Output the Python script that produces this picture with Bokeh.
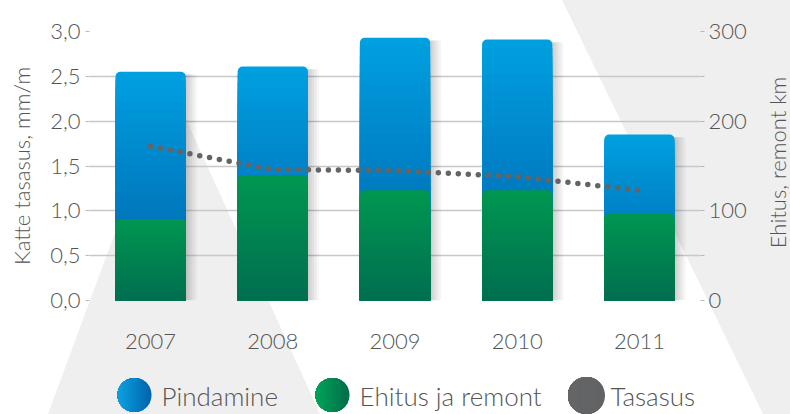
import numpy as np
from urllib.parse import quote
from bokeh.plotting import figure
from bokeh.layouts import row, column
from bokeh.models import Range1d, LinearAxis, FixedTicker, CustomJSTickFormatter
from bokeh.core.properties import value
from bokeh.embed import file_html
from bokeh.resources import INLINE

# ---------------- data ----------------
years = ["2007", "2008", "2009", "2010", "2011"]
pindamine = [164, 121, 170, 168, 88]        # km (right axis)
ehitus_ja_remont = [91, 140, 123, 123, 97]  # km (right axis)
tasasus = [1.72, 1.46, 1.45, 1.38, 1.23]    # mm/m (left axis)

left_ticks = [0, 0.5, 1.0, 1.5, 2.0, 2.5, 3.0]
right_ticks = [0, 50, 100, 150, 200, 250, 300]
legend_labels = ["Pindamine", "Ehitus ja remont", "Tasasus"]
left_title = "Katte tasasus, mm/m"
right_title = "Ehitus, remont km"

# ---------------- styling ----------------
W, H = 790, 414
H_MAIN = 360
W_TITLE = 28
FONT = "Lato Light, Lato"
TXT = "#555555"
TOP, BOTTOM = 31, 60
FL, FR = 89, 700          # frame left / right (page px)


def lerp(c0, c1, t):
    return "#%02x%02x%02x" % tuple(int(round(a + (b - a) * t)) for a, b in zip(c0, c1))


def bare(fig):
    fig.outline_line_color = None
    fig.background_fill_alpha = 0
    fig.border_fill_alpha = 0
    fig.xgrid.visible = False
    fig.ygrid.visible = False


# ---------------- main figure ----------------
p = figure(width=W - W_TITLE, height=H_MAIN, output_backend="svg", toolbar_location=None,
           x_range=Range1d(-0.5, 4.5), y_range=Range1d(0, 3),
           min_border_left=FL, min_border_right=W - W_TITLE - FR, min_border_top=TOP,
           min_border_bottom=BOTTOM)
p.extra_y_ranges = {"km": Range1d(0, 300)}
p.outline_line_color = None
p.background_fill_alpha = 0
p.border_fill_alpha = 0

x = np.arange(len(years))
pin = np.array(pindamine, float)
eh = np.array(ehitus_ja_remont, float)
total = pin + eh
BW = 0.575

# soft shadows to the right of the bars
for dx in [0.09, 0.07, 0.05, 0.032, 0.016]:
    p.vbar(x=x + dx, width=BW, bottom=0, top=total - 3, y_range_name="km",
           fill_color="black", fill_alpha=0.04, line_color=None)

N = 30
blue_top, blue_bot = (0, 160, 224), (0, 96, 170)
for k in range(N):
    f = 1 - k / N
    col = lerp(blue_bot, blue_top, 1 - (k + 0.5) / N)
    kw = dict(border_radius=(5, 5, 0, 0)) if k == 0 else {}
    p.vbar(x=x, width=BW, bottom=0, top=total * f, y_range_name="km",
           fill_color=col, line_color=None, **kw)

green_top, green_bot = (0, 151, 80), (0, 110, 80)
for k in range(N):
    f = 1 - k / N
    col = lerp(green_bot, green_top, 1 - (k + 0.5) / N)
    kw = dict(border_radius=(5, 5, 0, 0)) if k == 0 else {}
    p.vbar(x=x, width=BW, bottom=0, top=eh * f, y_range_name="km",
           fill_color=col, line_color=None, **kw)

# dotted line (Tasasus, left axis)
p.line(x, tasasus, line_color="#646464", line_width=5.5, line_dash="0 10",
       line_cap="round")

# ---------------- axes ----------------
p.xgrid.visible = False
p.ygrid.ticker = FixedTicker(ticks=left_ticks)
p.ygrid.grid_line_color = "#c8c8c8"
p.ygrid.grid_line_width = 1.5

xa = p.xaxis[0]
xa.ticker = FixedTicker(ticks=list(range(len(years))))
xa.major_label_overrides = {i: y for i, y in enumerate(years)}
xa.axis_line_color = None
xa.major_tick_line_color = None
xa.minor_tick_line_color = None
xa.major_label_standoff = 27
xa.major_label_text_font = FONT
xa.major_label_text_font_size = "22px"
xa.major_label_text_color = TXT

ya = p.yaxis[0]
ya.ticker = FixedTicker(ticks=left_ticks)
ya.formatter = CustomJSTickFormatter(code="return tick.toFixed(1).replace('.', ',')")
ya.axis_label = left_title

ra = LinearAxis(y_range_name="km", ticker=FixedTicker(ticks=right_ticks),
                formatter=CustomJSTickFormatter(
                    code="return (Math.round(tick) % 100 == 0) ? tick.toFixed(0) : ''"))
p.add_layout(ra, "right")

for ax, st in [(ya, 5), (ra, 4)]:
    ax.axis_line_color = None
    ax.major_tick_line_color = "#b8b8b8"
    ax.major_tick_out = 4
    ax.major_tick_in = 0
    ax.minor_tick_line_color = None
    ax.major_label_standoff = st
    ax.major_label_text_font = FONT
    ax.major_label_text_font_size = "22px"
    ax.major_label_text_color = TXT
    ax.axis_label_text_font = FONT
    ax.axis_label_text_font_size = "22px"
    ax.axis_label_text_font_style = "normal"
    ax.axis_label_text_color = TXT
    ax.axis_label_standoff = 12

# ---------------- right-hand title strip ----------------
t = figure(width=W_TITLE, height=H_MAIN, output_backend="svg", toolbar_location=None,
           x_range=Range1d(0, W_TITLE), y_range=Range1d(0, 3),
           x_axis_location=None, y_axis_location=None,
           min_border_left=0, min_border_right=0, min_border_top=TOP,
           min_border_bottom=BOTTOM)
bare(t)
t.text(x=[15], y=[3 * (300 - 162) / 269], text=[right_title], angle=np.pi / 2,
       text_font=value(FONT), text_font_size="22px", text_color=TXT,
       text_align="center", text_baseline="middle")

# ---------------- legend strip ----------------
q = figure(width=W, height=H - H_MAIN, output_backend="svg", toolbar_location=None,
           x_range=Range1d(FL, FR), y_range=Range1d(H, H_MAIN),
           x_axis_location=None, y_axis_location=None,
           min_border_left=FL, min_border_right=W - FR, min_border_top=0,
           min_border_bottom=0)
bare(q)


def portion(cx, cy, r, xc, n=48):
    th0 = np.arccos(np.clip((xc - cx) / r, -1, 1))
    th = np.linspace(th0, 2 * np.pi - th0, n)
    return list(cx + r * np.cos(th)), list(cy + r * np.sin(th))


legend_swatches = [((134, 394.5, 17), (12, 162, 226), (0, 98, 172)),
                   ((332, 394.5, 17), (0, 165, 88), (0, 108, 74)),
                   ((586, 395, 18.5), (100, 101, 103), (98, 99, 101))]
legend_text_x = [161, 359, 610]
pxs, pys, pcols = [], [], []
M = 16
for (cx, cy, r), light, dark in legend_swatches:
    for i in range(M):
        xc = cx + r - 2 * r * i / M
        xs_, ys_ = portion(cx, cy, r, xc)
        pxs.append(xs_)
        pys.append(ys_)
        pcols.append(lerp(dark, light, (i + 0.5) / M))
q.patches(pxs, pys, fill_color=pcols, line_color=None)
q.text(x=legend_text_x, y=[395] * 3, text=legend_labels,
       text_font=value(FONT), text_font_size="26px", text_color=TXT,
       text_baseline="middle", text_align="left")

# ---------------- decorative background (behind everything) ----------------
bg_svg = ("<svg xmlns='http://www.w3.org/2000/svg' width='790' height='414'>"
          "<polygon points='170,84 48,414 320,414' fill='#efefef'/>"
          "<polygon points='562,0 790,0 790,414 763,414' fill='#efefef'/>"
          "</svg>")
layout = column(row(p, t, spacing=0), q, spacing=0,
                styles={"background-color": "white",
                        "background-image": 'url("data:image/svg+xml,%s")' % quote(bg_svg),
                        "background-repeat": "no-repeat"})

open("out.html", "w").write(file_html(layout, INLINE))
